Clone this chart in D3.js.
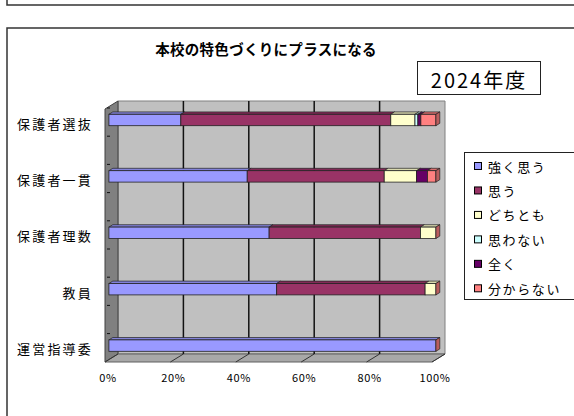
<!DOCTYPE html>
<html>
<head>
<meta charset="utf-8">
<script src="https://cdn.jsdelivr.net/npm/d3@7/dist/d3.min.js"></script>
<style>
  html, body { margin: 0; padding: 0; background: #fff; }
  svg { display: block; }
  text { font-family: "Noto Sans CJK JP", "Noto Sans", sans-serif; fill: #000; }
</style>
</head>
<body>
<svg id="chart" width="574" height="416"></svg>
<script>
// Survey groups (top to bottom) and response shares in percent
const categories = ["保護者選抜", "保護者一貫", "保護者理数", "教員", "運営指導委"];
const seriesNames = ["強く思う", "思う", "どちとも", "思わない", "全く", "分からない"];
const seriesColors = ["#9999FF", "#993366", "#FFFFCC", "#CCFFFF", "#660066", "#FF8080"];
const strongly   = [22.0, 42.3, 49.0, 51.3, 100];
const agree      = [64.2, 41.9, 46.3, 45.4, 0];
const neutral    = [7.4, 9.9, 4.7, 3.3, 0];
const disagree   = [0.9, 0, 0, 0, 0];
const notAtAll   = [0.9, 3.3, 0, 0, 0];
const unknown    = [4.6, 2.6, 0, 0, 0];
const tickValues = [0, 20, 40, 60, 80, 100];
const tickLabels = ["0%", "20%", "40%", "60%", "80%", "100%"];
const chartTitle = "本校の特色づくりにプラスになる";
const yearLabel = "2024年度";

const series = [strongly, agree, neutral, disagree, notAtAll, unknown];

const svg = d3.select("#chart");

// Frames around the chart blocks
svg.append("path").attr("d", "M7,-5 L7,5 L580,5")
  .attr("fill", "none").attr("stroke", "#333").attr("stroke-width", 1.5);
svg.append("path").attr("d", "M7,430 L7,28 L580,28")
  .attr("fill", "none").attr("stroke", "#333").attr("stroke-width", 1.5);

// 3D projection: depth d in [0,1] shifts right and up
const DX = 13, DY = 8;
const x = d3.scaleLinear().domain([0, 100]).range([105, 432]);
const floorY = 362, topY = 109;
const P = (v, d, yy) => [x(v) + d * DX, yy - d * DY];
const poly = pts => "M" + pts.map(p => p.join(",")).join("L") + "Z";

// Back wall
svg.append("path")
  .attr("d", poly([P(0, 1, topY), P(100, 1, topY), P(100, 1, floorY), P(0, 1, floorY)]))
  .attr("fill", "#C0C0C0").attr("stroke", "#808080").attr("stroke-width", 1);
// Side wall
svg.append("path")
  .attr("d", poly([P(0, 0, topY), P(0, 1, topY), P(0, 1, floorY), P(0, 0, floorY)]))
  .attr("fill", "#808080").attr("stroke", "#404040").attr("stroke-width", 1);
// Floor
svg.append("path")
  .attr("d", poly([P(0, 0, floorY), P(0, 1, floorY), P(100, 1, floorY), P(100, 0, floorY)]))
  .attr("fill", "#A8A8A8").attr("stroke", "#606060").attr("stroke-width", 1);

// Gridlines on the back wall and floor
tickValues.slice(1, -1).forEach(v => {
  svg.append("line")
    .attr("x1", P(v, 1, topY)[0]).attr("y1", P(v, 1, topY)[1])
    .attr("x2", P(v, 1, floorY)[0]).attr("y2", P(v, 1, floorY)[1])
    .attr("stroke", "#111").attr("stroke-width", 1.5);
});
tickValues.forEach(v => {
  svg.append("line")
    .attr("x1", P(v, 0, floorY)[0]).attr("y1", P(v, 0, floorY)[1])
    .attr("x2", P(v, 1, floorY)[0]).attr("y2", P(v, 1, floorY)[1])
    .attr("stroke", "#333").attr("stroke-width", 1);
});

// Category positions (front face centres of the bars)
const y = d3.scalePoint().domain(categories).range([120, 345.6]);
const step = y.step();

// Tick marks on the side wall
d3.range(0, 2 * categories.length - 1).forEach(k => {
  const ty = y(categories[0]) - 12 + k * step / 2;
  svg.append("line").attr("x1", 107).attr("x2", 110).attr("y1", ty).attr("y2", ty)
    .attr("stroke", "#111").attr("stroke-width", 1);
});

// Stacked 3D bars
const barH = 11.4, d0 = 0.3, dB = 0.3;
const bx = v => x(v) + d0 * DX;
const ox = dB * DX, oy = dB * DY;
const gBars = svg.append("g");
categories.forEach((cat, i) => {
  const cy = y(cat);
  const top = cy - barH / 2, bot = cy + barH / 2;
  let acc = 0;
  series.forEach((vals, s) => {
    const a = acc, b = acc + vals[i];
    acc = b;
    const xa = bx(a), xb = bx(b);
    const col = d3.color(seriesColors[s]);
    if (b > a) {
      gBars.append("path")
        .attr("d", poly([[xa, top], [xa + ox, top - oy], [xb + ox, top - oy], [xb, top]]))
        .attr("fill", col.darker(0.45)).attr("stroke", "#222").attr("stroke-width", 0.7);
      gBars.append("rect")
        .attr("x", xa).attr("y", top).attr("width", xb - xa).attr("height", barH)
        .attr("fill", col).attr("stroke", "#222").attr("stroke-width", 0.8);
    }
    if (s === series.length - 1) {
      gBars.append("path")
        .attr("d", poly([[xb, top], [xb + ox, top - oy], [xb + ox, bot - oy], [xb, bot]]))
        .attr("fill", col.darker(0.9)).attr("stroke", "#222").attr("stroke-width", 0.7);
    }
  });
});

// Category labels
svg.append("g").selectAll("text").data(categories).join("text")
  .attr("x", 93).attr("y", d => y(d) + 3)
  .attr("text-anchor", "end").attr("dominant-baseline", "central")
  .attr("font-size", 13).attr("letter-spacing", 2.2)
  .text(d => d);

// Value axis labels
svg.append("g").selectAll("text").data(tickValues).join("text")
  .attr("x", (d) => x(d) + 3).attr("y", 377)
  .attr("text-anchor", "middle").attr("dominant-baseline", "central")
  .attr("font-size", 11).attr("letter-spacing", 0.6)
  .text((d, i) => tickLabels[i]);

// Title
svg.append("text").attr("x", 266).attr("y", 48)
  .attr("text-anchor", "middle").attr("dominant-baseline", "central")
  .attr("font-size", 14.5).attr("font-weight", "bold").attr("letter-spacing", 0.3)
  .text(chartTitle);

// Year box
svg.append("rect").attr("x", 417.5).attr("y", 61.5).attr("width", 123).attr("height", 33)
  .attr("fill", "#fff").attr("stroke", "#222").attr("stroke-width", 1);
svg.append("text").attr("x", 479).attr("y", 79)
  .attr("text-anchor", "middle").attr("dominant-baseline", "central")
  .attr("font-size", 20).attr("letter-spacing", 2)
  .text(yearLabel);

// Legend
const lg = svg.append("g");
lg.append("rect").attr("x", 464.5).attr("y", 152.5).attr("width", 120).attr("height", 147)
  .attr("fill", "#fff").attr("stroke", "#222").attr("stroke-width", 1);
const ly = d3.scalePoint().domain(seriesNames).range([166, 288.3]);
seriesNames.forEach((name, i) => {
  lg.append("rect").attr("x", 474.5).attr("y", ly(name) - 3.5).attr("width", 7).attr("height", 7)
    .attr("fill", seriesColors[i]).attr("stroke", "#000").attr("stroke-width", 1);
  lg.append("text").attr("x", 488).attr("y", ly(name))
    .attr("dominant-baseline", "central").attr("font-size", 13).attr("letter-spacing", 1.6)
    .text(name);
});
</script>
</body>
</html>
